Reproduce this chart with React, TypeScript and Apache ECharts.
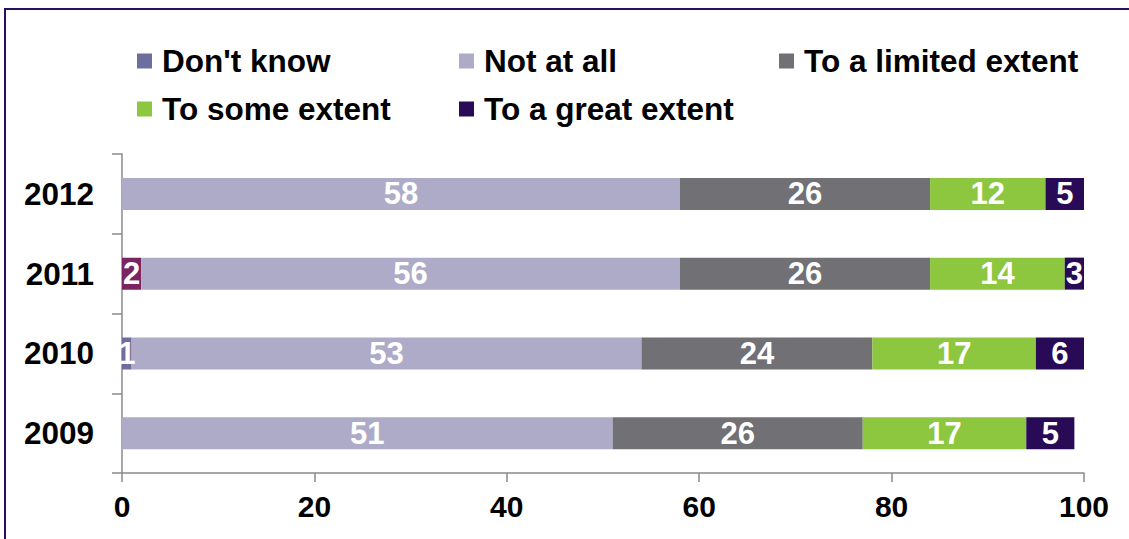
import React, { useEffect, useRef } from "react";
import * as echarts from "echarts";

const years = ["2009", "2010", "2011", "2012"];
const dontKnow = [0, 1, 2, 0];
const notAtAll = [51, 53, 56, 58];
const limitedExtent = [26, 24, 26, 26];
const someExtent = [17, 17, 14, 12];
const greatExtent = [5, 6, 3, 5];
const xTicks = [0, 20, 40, 60, 80, 100];

const seriesNames = ["Don't know", "Not at all", "To a limited extent", "To some extent", "To a great extent"];
const seriesColors = ["#6E6E9E", "#AEABC9", "#717075", "#8DC63F", "#290A57"];
const highlight2011 = "#7B2461";

const FONT = "'Liberation Sans', Arial, sans-serif";

export default function App() {
  const ref = useRef<HTMLDivElement>(null);
  useEffect(() => {
    if (!ref.current) return;
    const chart = echarts.init(ref.current, undefined, { renderer: "svg" });
    const values = [dontKnow, notAtAll, limitedExtent, someExtent, greatExtent];
    const legendPos = [
      { left: 137, top: 45 },
      { left: 459, top: 45 },
      { left: 779, top: 45 },
      { left: 137, top: 93 },
      { left: 459, top: 93 },
    ];
    const legends = seriesNames.map((name, i) => ({
      data: [name],
      left: legendPos[i].left,
      top: legendPos[i].top,
      padding: 0,
      icon: "rect",
      itemWidth: 15,
      itemHeight: 15,
      selectedMode: false,
      textStyle: {
        fontFamily: FONT,
        fontWeight: "bold",
        fontSize: 31.5,
        color: "#000",
        lineHeight: 31,
        padding: [0, 0, 0, 5],
      },
    }));
    const series = seriesNames.map((name, i) => ({
      name,
      type: "bar",
      stack: "total",
      barWidth: 32,
      color: seriesColors[i],
      data: values[i].map((v, j) =>
        i === 0 && years[j] === "2011" ? { value: v, itemStyle: { color: highlight2011 } } : v
      ),
      label: {
        show: true,
        position: "inside",
        color: "#fff",
        fontFamily: FONT,
        fontWeight: "bold",
        fontSize: 31,
        formatter: (p: any) => (p.value ? String(p.value) : ""),
      },
    }));
    chart.setOption({
      animation: false,
      backgroundColor: "#fff",
      legend: legends,
      grid: { left: 122, right: 45, top: 154, bottom: 66, containLabel: false },
      xAxis: {
        type: "value",
        min: xTicks[0],
        max: xTicks[xTicks.length - 1],
        interval: 20,
        splitLine: { show: false },
        axisLine: { show: true, lineStyle: { color: "#8A8A8A", width: 1.5 } },
        axisTick: { show: true, length: 9, lineStyle: { color: "#8A8A8A", width: 1.5 } },
        axisLabel: {
          margin: 18,
          color: "#000",
          fontFamily: FONT,
          fontWeight: "bold",
          fontSize: 30,
        },
      },
      yAxis: {
        type: "category",
        data: years,
        axisLine: { show: true, lineStyle: { color: "#8A8A8A", width: 1.5 } },
        axisTick: { show: true, length: 10, lineStyle: { color: "#8A8A8A", width: 1.5 } },
        axisLabel: {
          margin: 28,
          color: "#000",
          fontFamily: FONT,
          fontWeight: "bold",
          fontSize: 31.5,
        },
      },
      graphic: [
        {
          type: "rect",
          shape: { x: 5, y: 9, width: 1200, height: 600 },
          style: { fill: "none", stroke: "#2B0F5F", lineWidth: 2 },
          silent: true,
        },
      ],
      series,
    });
    return () => chart.dispose();
  }, []);
  return (
    <div
      ref={ref}
      style={{ position: "absolute", left: 0, top: 0, width: 1129, height: 539 }}
    />
  );
}
